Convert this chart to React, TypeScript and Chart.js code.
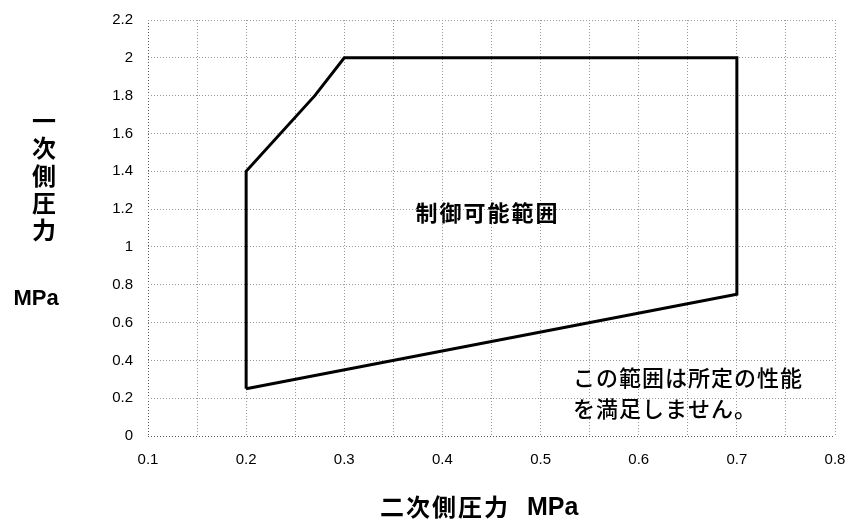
import React, { useEffect, useRef } from "react";
import { Chart, registerables } from "chart.js";

Chart.register(...registerables);

// Boundary of the controllable region (secondary pressure x, primary pressure y), MPa
const boundaryX = [0.2, 0.2, 0.27, 0.3, 0.7, 0.7, 0.2];
const boundaryY = [0.25, 1.4, 1.8, 2.0, 2.0, 0.75, 0.25];

// Axis ticks
const xGridValues = [0.1, 0.15, 0.2, 0.25, 0.3, 0.35, 0.4, 0.45, 0.5, 0.55, 0.6, 0.65, 0.7, 0.75, 0.8];
const xTickLabels = ["0.1", "0.2", "0.3", "0.4", "0.5", "0.6", "0.7", "0.8"];
const yTickValues = [0, 0.2, 0.4, 0.6, 0.8, 1, 1.2, 1.4, 1.6, 1.8, 2, 2.2];
const yTickLabels = ["0", "0.2", "0.4", "0.6", "0.8", "1", "1.2", "1.4", "1.6", "1.8", "2", "2.2"];

// Texts
const regionLabel = "制御可能範囲";
const regionLabelAt = [0.446, 1.18];
const noteLines = ["この範囲は所定の性能", "を満足しません。"];
const noteAt = [0.533, 0.31];
const yTitleChars = ["一", "次", "側", "圧", "力"];
const yTitleUnit = "MPa";
const xTitleMain = "二次側圧力";
const xTitleUnit = "MPa";

const JP = '"Noto Sans CJK JP", "Noto Sans", sans-serif';
const LAT = '"Liberation Sans", Arial, sans-serif';

const textPlugin = {
  id: "texts",
  afterDraw(chart: any) {
    const ctx = chart.ctx;
    const xs = chart.scales.x;
    const ys = chart.scales.y;
    ctx.save();
    ctx.fillStyle = "#000";
    // region label
    ctx.font = `bold 22px ${JP}`;
    ctx.letterSpacing = "2px";
    ctx.textAlign = "center";
    ctx.textBaseline = "middle";
    ctx.fillText(regionLabel, xs.getPixelForValue(regionLabelAt[0]), ys.getPixelForValue(regionLabelAt[1]));
    // note
    ctx.font = `500 22px ${JP}`;
    ctx.letterSpacing = "1px";
    ctx.textAlign = "left";
    const nx = xs.getPixelForValue(noteAt[0]);
    const ny = ys.getPixelForValue(noteAt[1]);
    noteLines.forEach((l, i) => ctx.fillText(l, nx, ny + i * 31));
    ctx.letterSpacing = "0px";
    // y title (vertical)
    ctx.font = `bold 24px ${JP}`;
    ctx.textAlign = "center";
    yTitleChars.forEach((c, i) => ctx.fillText(c, 44, 121 + i * 27.3));
    ctx.font = `bold 22px ${LAT}`;
    ctx.fillText(yTitleUnit, 36, 299);
    // x title
    const cx = (xs.left + xs.right) / 2;
    ctx.textAlign = "left";
    ctx.font = `bold 24px ${JP}`;
    ctx.letterSpacing = "2px";
    ctx.fillText(xTitleMain, cx - 111.5, 507);
    ctx.letterSpacing = "0px";
    ctx.font = `bold 25px ${LAT}`;
    ctx.fillText(xTitleUnit, cx + 35.5, 508);
    ctx.restore();
  },
};

export default function App() {
  const ref = useRef<HTMLCanvasElement>(null);
  useEffect(() => {
    const data = boundaryX.map((x, i) => ({ x, y: boundaryY[i] }));
    const chart = new Chart(ref.current as HTMLCanvasElement, {
      type: "scatter",
      data: {
        datasets: [
          {
            data,
            showLine: true,
            borderColor: "#000",
            borderWidth: 3,
            pointRadius: 0,
            fill: false,
            tension: 0,
          },
        ],
      },
      options: {
        responsive: false,
        animation: false,
        layout: { padding: { top: 20, right: 15, left: 0, bottom: 0 } },
        plugins: { legend: { display: false }, tooltip: { enabled: false } },
        scales: {
          x: {
            type: "linear",
            min: 0.1,
            max: 0.8,
            afterBuildTicks: (s: any) => {
              s.ticks = xGridValues.map((v) => ({ value: v }));
            },
            afterFit: (s: any) => {
              s.height = 84;
              s.paddingLeft = 0;
              s.paddingRight = 0;
            },
            ticks: {
              autoSkip: false,
              maxRotation: 0,
              padding: 15,
              color: "#000",
              font: { family: LAT, size: 15 },
              callback: (v: any) => {
                const i = xTickLabels.findIndex((l) => Math.abs(parseFloat(l) - v) < 1e-6);
                return i >= 0 ? xTickLabels[i] : "";
              },
            },
            grid: {
              drawTicks: false,
              color: (c: any) => (c.index === 0 ? "#555" : "#999"),
              lineWidth: 1,
            },
            border: { display: false, dash: [1, 2] },
          },
          y: {
            type: "linear",
            min: 0,
            max: 2.2,
            afterBuildTicks: (s: any) => {
              s.ticks = yTickValues.map((v) => ({ value: v }));
            },
            afterFit: (s: any) => {
              s.width = 148;
              s.paddingTop = 0;
              s.paddingBottom = 0;
            },
            ticks: {
              autoSkip: false,
              padding: 15,
              color: "#000",
              font: { family: LAT, size: 15 },
              callback: (v: any) => {
                const i = yTickValues.findIndex((t) => Math.abs(t - v) < 1e-6);
                return i >= 0 ? yTickLabels[i] : "";
              },
            },
            grid: {
              drawTicks: false,
              color: (c: any) => (c.index === 0 ? "#555" : "#999"),
              lineWidth: 1,
            },
            border: { display: false, dash: [1, 2] },
          },
        },
      },
      plugins: [textPlugin],
    } as any);
    return () => chart.destroy();
  }, []);
  return (
    <div style={{ position: "fixed", left: 0, top: 0, width: 850, height: 520, background: "#fff" }}>
      <canvas ref={ref} width={850} height={520} style={{ width: 850, height: 520 }} />
    </div>
  );
}
